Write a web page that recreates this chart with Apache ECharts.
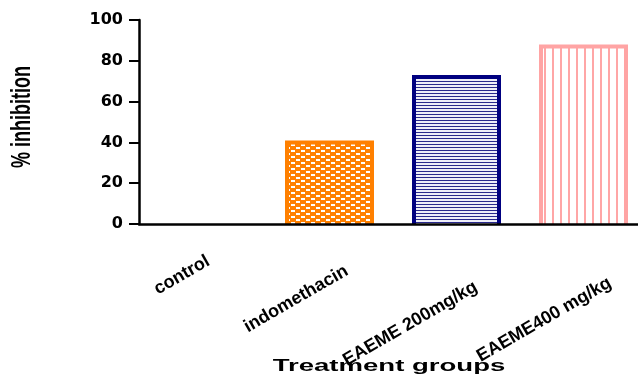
<!DOCTYPE html>
<html>
<head>
<meta charset="utf-8">
<script src="https://cdn.jsdelivr.net/npm/echarts@6/dist/echarts.min.js"></script>
<style>
html,body{margin:0;padding:0;background:#fff;}
#c{width:638px;height:376px;}
</style>
</head>
<body>
<div id="c"></div>
<script>
var categories = ['control', 'indomethacin', 'EAEME 200mg/kg', 'EAEME400 mg/kg'];
var values = [0, 40, 72, 87];
var yTicks = [0, 20, 40, 60, 80, 100];
var yTitle = '% inhibition';
var xTitle = 'Treatment groups';

// label layout nudges
var labelPadRight = [7, 2, 8, 0];
var labelPadTop = [0, 5, 20, 20];
var labelVAlign = ['middle', 'top', 'top', 'top'];

function tile(w, h, draw) {
  var c = document.createElement('canvas');
  c.width = w; c.height = h;
  draw(c.getContext('2d'));
  return c;
}
var orangeTile = tile(10, 6, function (g) {
  g.fillStyle = '#ff8000'; g.fillRect(0, 0, 10, 6);
  g.fillStyle = '#ffffff';
  g.fillRect(1, 0, 4, 2);
  g.fillRect(6, 3, 4, 2);
});
var blueTile = tile(4, 3, function (g) {
  g.fillStyle = '#eeeef8'; g.fillRect(0, 0, 4, 3);
  g.fillStyle = '#2a2a8c'; g.fillRect(0, 0, 4, 1);
});
var pinkTile = tile(8, 4, function (g) {
  g.fillStyle = '#ffffff'; g.fillRect(0, 0, 8, 4);
  g.fillStyle = '#ffa6a6'; g.fillRect(0, 0, 2, 4);
});
var styles = [
  {fill: '#ffffff', border: '#000000'},
  {fill: {image: orangeTile, repeat: 'repeat'}, border: '#ff8000'},
  {fill: {image: blueTile, repeat: 'repeat'}, border: '#000080'},
  {fill: {image: pinkTile, repeat: 'repeat'}, border: '#ffa4a4'}
];

var BAR_FRACTION = 85 / 127;
var BORDER = 4;

function renderBar(params, api) {
  var idx = api.value(0);
  var v = api.value(1);
  if (!v) return null;
  var top = api.coord([idx, v]);
  var base = api.coord([idx, 0]);
  var w = api.size([1, 0])[0] * BAR_FRACTION;
  var x0 = top[0] - w / 2, x1 = top[0] + w / 2;
  var st = styles[idx];
  return {
    type: 'group',
    children: [
      {type: 'rect', shape: {x: x0, y: top[1], width: w, height: base[1] - top[1]},
       style: {fill: st.fill}},
      {type: 'polyline', shape: {points: [[x0, base[1]], [x0, top[1]], [x1, top[1]], [x1, base[1]]]},
       style: {stroke: st.border, lineWidth: BORDER, fill: null, lineJoin: 'miter'}}
    ]
  };
}

var labelData = categories.map(function (c, i) {
  return {value: c, textStyle: {padding: [labelPadTop[i], labelPadRight[i], 0, 0], verticalAlign: labelVAlign[i]}};
});

var chart = echarts.init(document.getElementById('c'), null, {renderer: 'canvas'});
chart.setOption({
  animation: false,
  backgroundColor: '#ffffff',
  grid: [
    {left: 139, top: 20, width: 508, height: 204, outerBoundsMode: 'none', containLabel: false},
    {left: 151, top: 20, width: 508, height: 204, outerBoundsMode: 'none', containLabel: false}
  ],
  xAxis: [{
    type: 'category',
    gridIndex: 0,
    data: categories,
    axisLine: {lineStyle: {color: '#000', width: 2.5}},
    axisTick: {alignWithLabel: true, length: 6, lineStyle: {color: '#000', width: 2}},
    axisLabel: {show: false},
    z: 5
  }, {
    type: 'category',
    gridIndex: 1,
    data: labelData,
    axisLine: {show: false},
    axisTick: {show: false},
    axisLabel: {
      interval: 0, rotate: 30, margin: 32.5,
      fontFamily: 'Liberation Sans, Arial', fontWeight: 'bold', fontSize: 18, color: '#000'
    }
  }],
  yAxis: [{
    type: 'value',
    gridIndex: 0,
    min: yTicks[0], max: yTicks[yTicks.length - 1], interval: yTicks[1] - yTicks[0],
    splitLine: {show: false},
    axisLine: {show: true, lineStyle: {color: '#000', width: 2.5}},
    axisTick: {show: true, length: 10, lineStyle: {color: '#000', width: 2}},
    axisLabel: {margin: 16, fontFamily: 'DejaVu Sans', fontWeight: 'bold', fontSize: 16, color: '#000'}
  }, {
    type: 'value', gridIndex: 1, min: 0, max: 100, show: false
  }],
  graphic: [
    {type: 'text', x: 389, y: 366, scaleX: 1.62,
     style: {text: xTitle, font: 'bold 17px "Liberation Sans", Arial', fill: '#000', align: 'center', verticalAlign: 'middle'}},
    {type: 'text', x: 22, y: 117, rotation: Math.PI / 2, scaleY: 1.55,
     style: {text: yTitle, font: 'bold 18px "Liberation Sans", Arial', fill: '#000', align: 'center', verticalAlign: 'middle'}}
  ],
  series: [{
    type: 'custom',
    xAxisIndex: 0, yAxisIndex: 0,
    renderItem: renderBar,
    encode: {x: 0, y: 1},
    data: values.map(function (v, i) { return [i, v]; }),
    z: 2
  }]
});
</script>
</body>
</html>
